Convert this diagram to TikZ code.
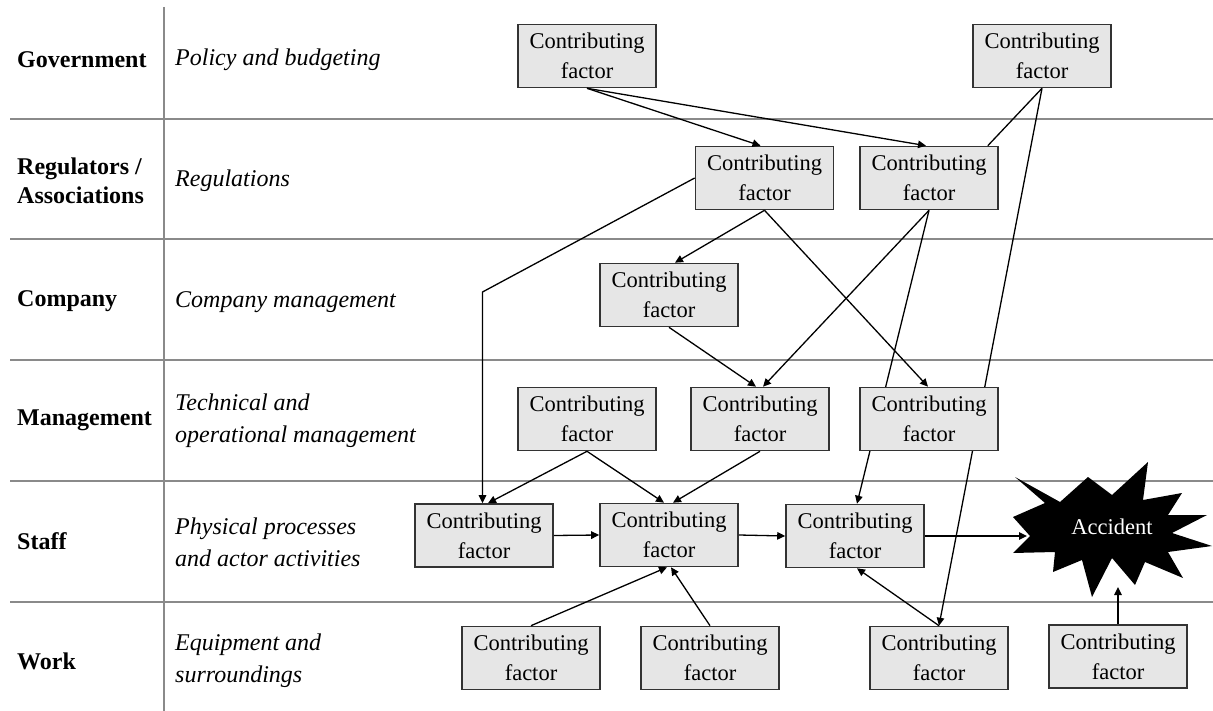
\documentclass[tikz,border=0pt]{standalone}
\usepackage{fontspec}
\setmainfont{Liberation Serif}
\usetikzlibrary{arrows.meta,calc}
\pgfdeclarelayer{bg}
\pgfsetlayers{bg,main}
\definecolor{boxfill}{HTML}{E6E6E6}
\definecolor{boxline}{HTML}{333333}
\definecolor{gridline}{HTML}{8A8A8A}
\tikzset{
  factor/.style={draw=boxline, line width=1.6pt, fill=boxfill, minimum width=138pt,
    minimum height=63pt, inner sep=0pt, align=center,
    font=\fontsize{22.5}{30}\selectfont},
  levelname/.style={anchor=west, inner sep=0pt, align=left,
    font=\fontsize{24}{29}\selectfont\bfseries},
  activity/.style={anchor=west, inner sep=0pt, align=left,
    font=\fontsize{24}{32}\selectfont\itshape},
  link/.style={line width=1.3pt, draw=black},
  arr/.style={link, -{Triangle[length=8pt,width=7.5pt]}},
}
\begin{document}
\begin{tikzpicture}[x=1pt,y=-1pt]
\useasboundingbox (0,0) rectangle (1213,711);

% swim-lane grid
\begin{pgfonlayer}{bg}
\foreach \yy in {119,239,360,481,602}
  \draw[gridline, line width=1.5pt] (10,\yy) -- (1213,\yy);
\draw[gridline, line width=1.5pt] (164,7) -- (164,711);
\end{pgfonlayer}

% level names
\node[levelname] (lgov) at (17,60) {Government};
\node[levelname] (lreg) at (17,181) {Regulators /\\Associations};
\node[levelname] (lcom) at (17,301) {Company};
\node[levelname] (lman) at (17,420) {Management};
\node[levelname] (lsta) at (17,541) {Staff};
\node[levelname] (lwor) at (17,661) {Work};

% level activities
\node[activity] (dgov) at (175,60) {Policy and budgeting};
\node[activity] (dreg) at (175,181) {Regulations};
\node[activity] (dcom) at (175,302) {Company management};
\node[activity] (dman) at (175,421) {Technical and\\operational management};
\node[activity] (dsta) at (175,542) {Physical processes\\and actor activities};
\node[activity] (dwor) at (175,661) {Equipment and\\surroundings};

% contributing factors
\node[factor] (G1) at (587,56) {Contributing\\factor};
\node[factor] (G2) at (1042,56) {Contributing\\factor};
\node[factor] (R1) at (764.5,178) {Contributing\\factor};
\node[factor] (R2) at (929,178) {Contributing\\factor};
\node[factor] (C1) at (669,295) {Contributing\\factor};
\node[factor] (M1) at (587,419) {Contributing\\factor};
\node[factor] (M2) at (760,419) {Contributing\\factor};
\node[factor] (M3) at (929,419) {Contributing\\factor};
\node[factor] (S1) at (484,535.5) {Contributing\\factor};
\node[factor] (S2) at (669,535) {Contributing\\factor};
\node[factor] (S3) at (855,536) {Contributing\\factor};
\node[factor] (W1) at (531,658) {Contributing\\factor};
\node[factor] (W2) at (710,658) {Contributing\\factor};
\node[factor] (W3) at (939,658) {Contributing\\factor};
\node[factor] (W4) at (1118,656.5) {Contributing\\factor};

% accident burst
\fill[black] (1015,477) -- (1060,502) -- (1088,477) -- (1112,495) -- (1148,462)
  -- (1143,500) -- (1182,493) -- (1168,515) -- (1207,515) -- (1172,533)
  -- (1212,546) -- (1168,552) -- (1183,578) -- (1145,562) -- (1135,585)
  -- (1112,558) -- (1092,597) -- (1082,560) -- (1053,572) -- (1055,552)
  -- (1013,553) -- (1030,536) -- (1013,517) -- (1045,503) -- cycle;
\node[text=white, inner sep=0pt, font=\fontsize{22.5}{27}\selectfont] (acc) at (1112,527) {Accident};
\coordinate (accL) at (1027,536);
\coordinate (accB) at (1118,587);
\coordinate (r1bend) at (482.5,292);

% links that run behind boxes
\begin{pgfonlayer}{bg}
\draw[arr] (G2.south) -- (W3.north);
\draw[arr] (R2.south) -- ([xshift=2pt]S3.north);
\end{pgfonlayer}

% links
\draw[arr] (G1.south) -- ([xshift=-4pt]R1.north);
\draw[arr] (G1.south) -- ([xshift=-3pt]R2.north);
\draw[link] (G2.south) -- ([xshift=-11pt]R2.north east);
\draw[arr] (R1.west) -- (r1bend) -- (r1bend |- S1.north);
\draw[arr] (R1.south) -- ([xshift=6pt]C1.north);
\draw[arr] (R1.south) -- ([xshift=-1pt]M3.north);
\draw[arr] (R2.south) -- ([xshift=3pt]M2.north);
\draw[arr] (C1.south) -- ([xshift=-4pt]M2.north);
\draw[arr] (M1.south) -- ([xshift=4pt]S1.north);
\draw[arr] (M1.south) -- ([xshift=-5pt]S2.north);
\draw[arr] (M2.south) -- ([xshift=4pt]S2.north);
\draw[arr] (S1.east) -- (S2.west);
\draw[arr] (S2.east) -- (S3.west);
\draw[arr] (S3.east) -- (accL);
\draw[arr] (W1.north) -- ([xshift=-2pt]S2.south);
\draw[arr] (W2.north) -- ([xshift=2pt]S2.south);
\draw[arr] (W3.north) -- ([xshift=2pt]S3.south);
\draw[arr] (W4.north) -- (accB);
\end{tikzpicture}
\end{document}
